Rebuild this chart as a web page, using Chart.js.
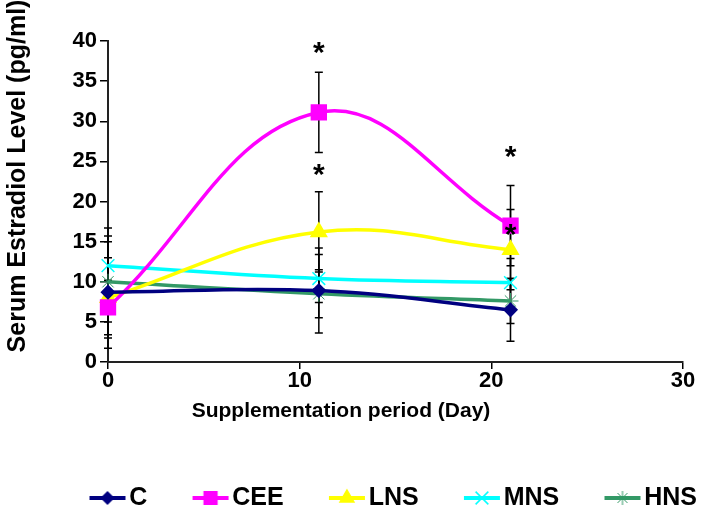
<!DOCTYPE html>
<html>
<head>
<meta charset="utf-8">
<script src="https://cdn.jsdelivr.net/npm/chart.js@4.4.1/dist/chart.umd.min.js"></script>
<style>
  html, body { margin: 0; padding: 0; background: #fff; }
  #wrap { width: 701px; height: 517px; }
</style>
</head>
<body>
<div id="wrap"><canvas id="estradiolChart" width="701" height="517"></canvas></div>
<script>
// supplementation days and group means (pg/ml)
const days = [0, 11, 21];
const cVals = [8.7, 8.9, 6.5];
const ceeVals = [6.8, 31.1, 17.0];
const lnsVals = [8.0, 16.2, 14.0];
const mnsVals = [12.0, 10.4, 9.9];
const hnsVals = [10.0, 8.5, 7.6];

// standard deviations
const cErr = [7.0, 5.3, 3.9];
const ceeErr = [3.4, 5.0, 5.0];
const lnsErr = [5.0, 5.0, 5.0];
const mnsErr = [4.7, 3.0, 3.0];
const hnsErr = [5.0, 3.0, 2.8];

// significance marks
const starDays = [11, 11, 21, 21];
const starVals = [39, 23.8, 26, 16.3];

const xTicks = [0, 10, 20, 30];
const yTicks = [0, 5, 10, 15, 20, 25, 30, 35, 40];

const xTitle = 'Supplementation period (Day)';
const yTitle = 'Serum Estradiol Level (pg/ml)';

const sans = "'Liberation Sans', Arial, sans-serif";

function pts(vals) {
  return days.map((d, i) => ({ x: d, y: vals[i] }));
}

// legend icon: short line with the marker on it, shifted right inside a wider canvas
function legendIcon(s) {
  const c = document.createElement('canvas');
  c.width = 90;
  c.height = 22;
  const ctx = c.getContext('2d');
  ctx.strokeStyle = s.color;
  ctx.lineWidth = 4;
  ctx.beginPath();
  ctx.moveTo(52, 11);
  ctx.lineTo(88, 11);
  ctx.stroke();
  ctx.fillStyle = s.color;
  ctx.lineWidth = s.bw;
  Chart.helpers.drawPoint(ctx, { pointStyle: s.style, radius: s.lr, borderWidth: s.bw, rotation: 0 }, 70, 11);
  return c;
}

const series = [
  { label: 'C', vals: cVals, err: cErr, color: '#000080', style: 'rectRot', r: 6.5, lr: 6, bw: 1.5 },
  { label: 'CEE', vals: ceeVals, err: ceeErr, color: '#FF00FF', style: 'rect', r: 10.5, lr: 9, bw: 1.5 },
  { label: 'LNS', vals: lnsVals, err: lnsErr, color: '#FFFF00', style: 'triangle', r: 9, lr: 8, bw: 1.5 },
  { label: 'MNS', vals: mnsVals, err: mnsErr, color: '#00FFFF', style: 'crossRot', r: 9, lr: 9, bw: 1.5 },
  { label: 'HNS', vals: hnsVals, err: hnsErr, color: '#339966', style: 'star', r: 8, lr: 7, bw: 1 }
];

const extras = {
  id: 'extras',
  beforeDatasetsDraw(chart) {
    const { ctx, scales: { x, y } } = chart;
    ctx.save();
    ctx.strokeStyle = '#000';
    ctx.lineWidth = 1.5;
    series.forEach(s => {
      days.forEach((d, i) => {
        const px = x.getPixelForValue(d);
        const top = y.getPixelForValue(s.vals[i] + s.err[i]);
        const bot = y.getPixelForValue(s.vals[i] - s.err[i]);
        ctx.beginPath();
        ctx.moveTo(px, top); ctx.lineTo(px, bot);
        ctx.moveTo(px - 4, top); ctx.lineTo(px + 4, top);
        ctx.moveTo(px - 4, bot); ctx.lineTo(px + 4, bot);
        ctx.stroke();
      });
    });
    ctx.restore();
  },
  afterDatasetsDraw(chart) {
    const { ctx, scales: { x, y } } = chart;
    ctx.save();
    ctx.fillStyle = '#000';
    ctx.font = 'bold 30px ' + sans;
    ctx.textAlign = 'center';
    ctx.textBaseline = 'alphabetic';
    starDays.forEach((d, i) => {
      ctx.fillText('*', x.getPixelForValue(d), y.getPixelForValue(starVals[i]) + 13);
    });
    ctx.restore();
  },
  afterDraw(chart) {
    const ctx = chart.ctx;
    ctx.save();
    ctx.fillStyle = '#000';
    ctx.textAlign = 'center';
    ctx.textBaseline = 'middle';
    ctx.font = 'bold 21px ' + sans;
    ctx.fillText(xTitle, 341, 411);
    ctx.translate(18, 176);
    ctx.rotate(-Math.PI / 2);
    ctx.font = 'bold 25px ' + sans;
    ctx.fillText(yTitle, 0, 0);
    ctx.restore();
  }
};

new Chart(document.getElementById('estradiolChart'), {
  type: 'line',
  data: {
    datasets: series.map(s => ({
      label: s.label,
      data: pts(s.vals),
      borderColor: s.color,
      backgroundColor: s.color,
      borderWidth: 3.5,
      tension: 0.4,
      pointStyle: s.style,
      pointRadius: s.r,
      pointHoverRadius: s.r,
      pointBorderWidth: s.bw,
      pointBackgroundColor: s.color,
      pointBorderColor: s.color,
      clip: false
    }))
  },
  options: {
    responsive: false,
    animation: false,
    events: [],
    layout: { padding: { top: 41, right: 0, bottom: -3.5, left: 0 } },
    scales: {
      x: {
        type: 'linear',
        min: 0,
        max: 30,
        afterBuildTicks: scale => { scale.ticks = xTicks.map(v => ({ value: v })); },
        afterFit: scale => { scale.height = 119.5; },
        ticks: { color: '#000', font: { family: sans, size: 22, weight: 'bold' }, padding: -1 },
        grid: { display: true, drawOnChartArea: false, drawTicks: true, tickLength: 7, color: '#000', lineWidth: 1.5 },
        border: { color: '#222', width: 2 }
      },
      y: {
        min: 0,
        max: 40,
        afterBuildTicks: scale => { scale.ticks = yTicks.map(v => ({ value: v })); },
        afterFit: scale => { scale.width = 108; },
        ticks: { color: '#000', font: { family: sans, size: 22, weight: 'bold' }, padding: 3 },
        grid: { display: true, drawOnChartArea: false, drawTicks: true, tickLength: 8, color: '#000', lineWidth: 1.5 },
        border: { color: '#222', width: 2 }
      },
      // empty spacer on the right so the legend can reach the edge
      spacer: {
        type: 'linear',
        position: 'right',
        afterFit: scale => { scale.width = 18; },
        ticks: { display: false },
        grid: { display: false },
        border: { display: false }
      }
    },
    plugins: {
      legend: {
        position: 'bottom',
        align: 'end',
        labels: {
          usePointStyle: true,
          pointStyleWidth: 68.5,
          padding: 4,
          color: '#000',
          font: { family: sans, size: 25, weight: 'bold' },
          generateLabels: chart => series.map((s, i) => ({
            text: s.label,
            fillStyle: s.color,
            strokeStyle: s.color,
            lineWidth: 0,
            pointStyle: legendIcon(s),
            datasetIndex: i,
            hidden: false
          }))
        }
      },
      tooltip: { enabled: false }
    }
  },
  plugins: [extras]
});
</script>
</body>
</html>
